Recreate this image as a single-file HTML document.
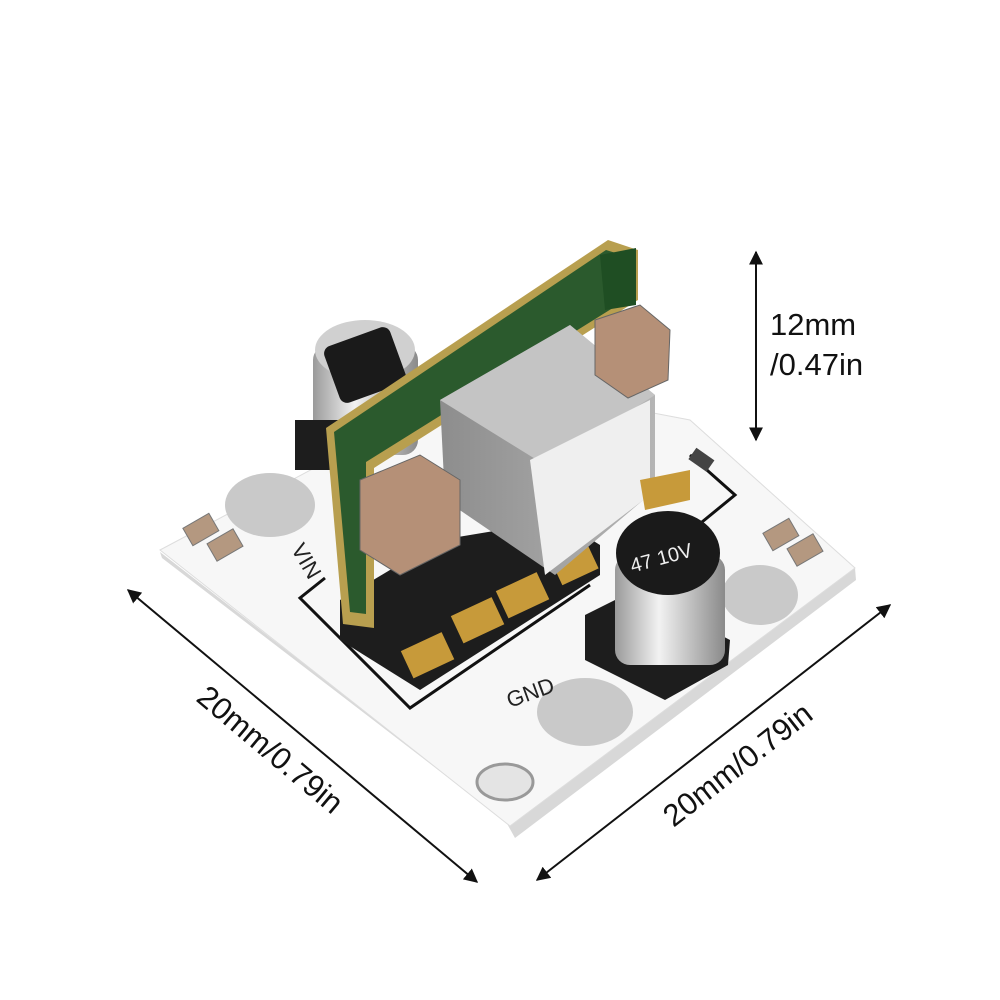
<!DOCTYPE html>
<html><head><meta charset="utf-8"><style>
html,body{margin:0;padding:0;background:#fff;width:1000px;height:1000px;overflow:hidden}
</style></head><body>
<svg width="1000" height="1000" viewBox="0 0 1000 1000" xmlns="http://www.w3.org/2000/svg">
<defs>
<marker id="a" viewBox="0 0 10 10" refX="9" refY="5" markerWidth="7" markerHeight="7" orient="auto-start-reverse"><path d="M0,0 L10,5 L0,10 z" fill="#111"/></marker>
<linearGradient id="cap" x1="0" x2="1"><stop offset="0" stop-color="#9a9a9a"/><stop offset="0.4" stop-color="#f2f2f2"/><stop offset="1" stop-color="#8a8a8a"/></linearGradient>
<linearGradient id="ind" x1="0" x2="1"><stop offset="0" stop-color="#8d8d8d"/><stop offset="1" stop-color="#b5b5b5"/></linearGradient>
</defs>
<polygon points="160,552 505,820 515,838 856,580 855,568 510,825 162,558" fill="#d8d8d8"/>
<polygon points="160,550 480,380 690,420 855,568 510,826" fill="#f7f7f7" stroke="#ddd"/>
<polyline points="325,578 300,598 410,708 590,585" fill="none" stroke="#111" stroke-width="3"/>
<polyline points="690,455 735,495 680,540" fill="none" stroke="#111" stroke-width="3"/>
<ellipse cx="270" cy="505" rx="45" ry="32" fill="#c9c9c9"/>
<ellipse cx="585" cy="712" rx="48" ry="34" fill="#c9c9c9"/>
<ellipse cx="760" cy="595" rx="38" ry="30" fill="#c9c9c9"/>
<ellipse cx="505" cy="782" rx="28" ry="18" fill="#e4e4e4" stroke="#999" stroke-width="3"/>
<g fill="#b49880" stroke="#777"><rect x="186" y="520" width="30" height="20" transform="rotate(-30 200 530)"/><rect x="210" y="535" width="30" height="20" transform="rotate(-30 225 545)"/>
<rect x="766" y="525" width="30" height="20" transform="rotate(-30 780 535)"/><rect x="790" y="540" width="30" height="20" transform="rotate(-30 805 550)"/></g>
<text x="505" y="700" font-family="Liberation Sans" font-size="22" fill="#222" transform="rotate(-20 530 690)">GND</text>
<text x="290" y="560" font-family="Liberation Sans" font-size="22" fill="#222" transform="rotate(60 300 555)">VIN</text>
<polygon points="340,600 440,540 560,520 600,545 600,575 420,690 340,640" fill="#1d1d1d"/>
<g fill="#c79a3a"><rect x="405" y="640" width="45" height="30" transform="rotate(-25 428 655)"/><rect x="455" y="605" width="45" height="30" transform="rotate(-25 478 620)"/><rect x="500" y="580" width="45" height="30" transform="rotate(-25 523 595)"/><rect x="555" y="550" width="40" height="28" transform="rotate(-25 575 565)"/></g>
<polygon points="585,615 635,590 730,640 728,665 665,700 585,660" fill="#1d1d1d"/>
<rect x="615" y="555" width="110" height="110" rx="15" fill="url(#cap)"/>
<ellipse cx="668" cy="553" rx="52" ry="42" fill="#1a1a1a"/>
<text x="630" y="565" font-family="Liberation Sans" font-size="20" fill="#eee" transform="rotate(-15 660 560)">47 10V</text>
<rect x="313" y="345" width="105" height="110" rx="15" fill="url(#cap)"/>
<ellipse cx="365" cy="350" rx="50" ry="30" fill="#d0d0d0"/>
<rect x="330" y="335" width="70" height="60" rx="8" fill="#1a1a1a" transform="rotate(-20 365 365)"/>
<rect x="295" y="420" width="50" height="50" fill="#1d1d1d"/>
<polygon points="326,428 608,240 638,250 638,300 374,468 374,628 343,624" fill="#b89f4f"/>
<polygon points="334,432 606,250 632,258 632,296 366,462 366,614 350,612" fill="#2b5a2d"/>
<polygon points="600,255 636,248 636,305 605,310" fill="#1f4e23"/>
<polygon points="440,400 570,325 655,395 655,490 555,575 445,500" fill="url(#ind)"/>
<polygon points="440,400 570,325 655,395 545,465" fill="#c4c4c4"/>
<polygon points="530,460 650,400 650,495 545,575" fill="#efefef"/>
<polygon points="360,480 420,455 460,480 460,545 400,575 360,550" fill="#b59077" stroke="#666"/>
<polygon points="595,320 640,305 670,330 668,380 628,398 595,375" fill="#b59077" stroke="#666"/>
<polygon points="640,480 690,470 690,500 645,510" fill="#c79a3a"/>
<rect x="690" y="452" width="22" height="14" fill="#444" transform="rotate(35 700 460)"/>
<line x1="756" y1="252" x2="756" y2="440" stroke="#111" stroke-width="2" marker-start="url(#a)" marker-end="url(#a)"/>
<text x="770" y="335" font-family="Liberation Sans" font-size="31" fill="#111">12mm</text>
<text x="770" y="375" font-family="Liberation Sans" font-size="31" fill="#111">/0.47in</text>
<line x1="128" y1="590" x2="477" y2="882" stroke="#111" stroke-width="2" marker-start="url(#a)" marker-end="url(#a)"/>
<line x1="537" y1="880" x2="890" y2="605" stroke="#111" stroke-width="2" marker-start="url(#a)" marker-end="url(#a)"/>
<text x="270" y="760" font-family="Liberation Sans" font-size="31" fill="#111" text-anchor="middle" transform="rotate(40 270 750)">20mm/0.79in</text>
<text x="738" y="775" font-family="Liberation Sans" font-size="31" fill="#111" text-anchor="middle" transform="rotate(-38 738 765)">20mm/0.79in</text>
</svg>
</body></html>
